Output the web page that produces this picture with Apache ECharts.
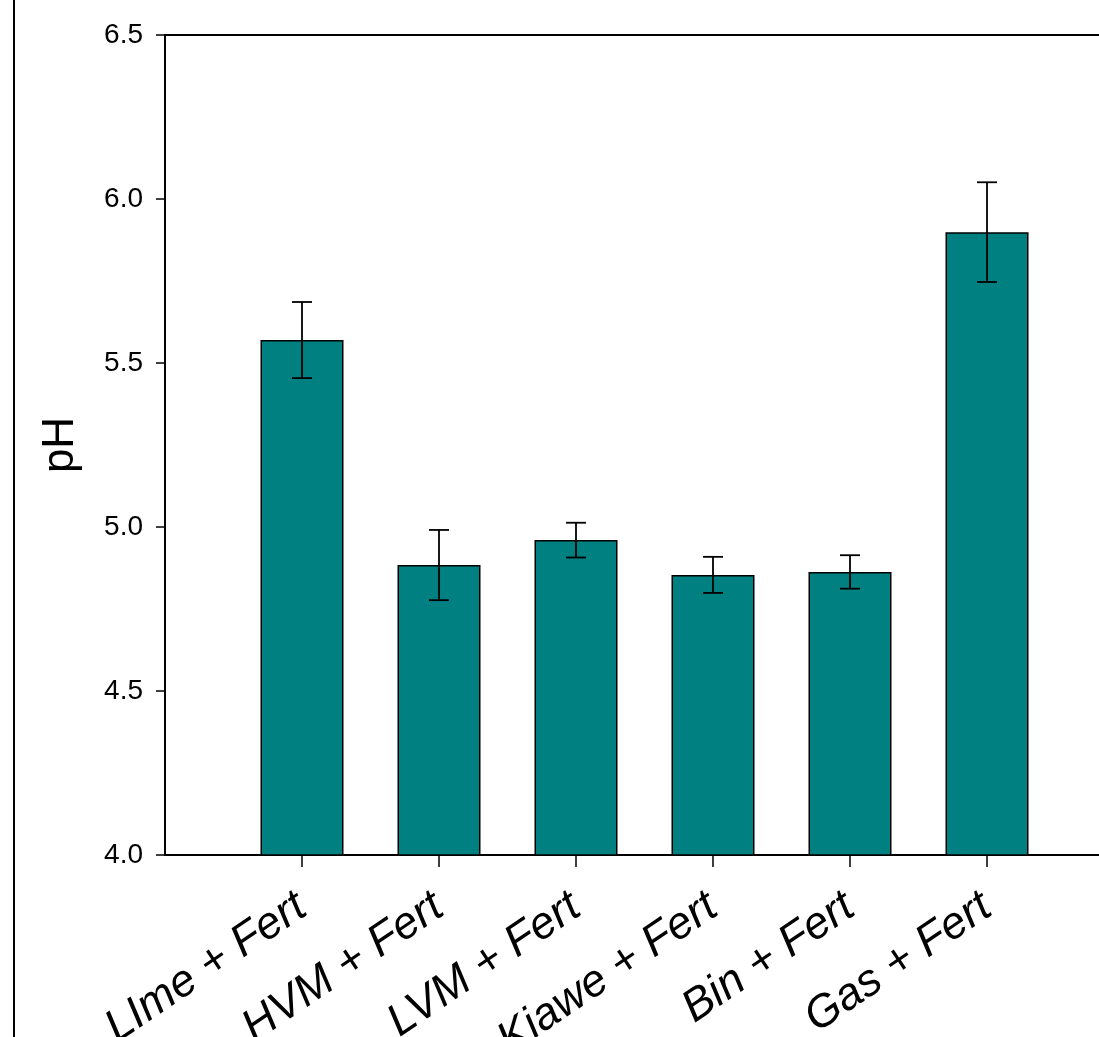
<!DOCTYPE html>
<html>
<head>
<meta charset="utf-8">
<style>
  html, body { margin: 0; padding: 0; background: #fff; overflow: hidden; }
  /* the frame runs a little past the right edge of the window */
  #chart { width: 1124px; height: 1037px; }
</style>
<script src="https://cdn.jsdelivr.net/npm/echarts@6/dist/echarts.min.js"></script>
</head>
<body>
<div id="chart"></div>
<script>
// Soil pH by treatment, mean with standard error
const categories = ['LIme + Fert', 'HVM + Fert', 'LVM + Fert', 'Kiawe + Fert', 'Bin + Fert', 'Gas + Fert'];
const phMean = [5.57, 4.884, 4.96, 4.854, 4.863, 5.899];
const phErr = [0.116, 0.107, 0.053, 0.055, 0.051, 0.152];
const yTicks = [4.0, 4.5, 5.0, 5.5, 6.0, 6.5];

const FONT = "'Liberation Sans', Arial, Helvetica, sans-serif";

// Axis slots: one empty slot at each end so the bars sit one step in from the frame
const axisSlots = [''].concat(categories, ['']);
const isRealSlot = (idx) => idx > 0 && idx <= categories.length;

const barData = phMean.map((v, i) => [i + 1, v]);
const errData = phMean.map((v, i) => [i + 1, v - phErr[i], v + phErr[i]]);

const chart = echarts.init(document.getElementById('chart'));

chart.setOption({
  animation: false,
  backgroundColor: '#ffffff',
  grid: {
    left: 165, right: 0, top: 35, bottom: 182,
    outerBoundsMode: 'none',
    show: true, borderColor: '#000', borderWidth: 2, backgroundColor: 'transparent'
  },
  graphic: [{
    type: 'line',
    shape: { x1: 14, y1: 0, x2: 14, y2: 1037 },
    style: { stroke: '#000', lineWidth: 2 }
  }],
  xAxis: {
    type: 'category',
    data: axisSlots,
    boundaryGap: false,
    axisLine: { show: true, lineStyle: { color: '#000', width: 2 } },
    axisTick: {
      show: true, inside: false, length: 12,
      interval: (idx) => isRealSlot(idx),
      lineStyle: { color: '#000', width: 1.5 }
    },
    axisLabel: {
      interval: (idx) => isRealSlot(idx),
      rotate: 34,
      margin: 48,
      color: '#000',
      fontFamily: FONT,
      fontStyle: 'italic',
      fontSize: 45
    },
    splitLine: { show: false }
  },
  yAxis: {
    type: 'value',
    min: yTicks[0],
    max: yTicks[yTicks.length - 1],
    interval: 0.5,
    name: 'pH',
    nameLocation: 'middle',
    nameGap: 82,
    nameTextStyle: { color: '#000', fontFamily: FONT, fontSize: 44 },
    axisLine: { show: true, lineStyle: { color: '#000', width: 2 } },
    axisTick: { show: true, inside: false, length: 9, lineStyle: { color: '#000', width: 1.5 } },
    axisLabel: {
      margin: 22,
      color: '#000',
      fontFamily: FONT,
      fontSize: 28,
      formatter: (v) => v.toFixed(1)
    },
    splitLine: { show: false }
  },
  series: [
    {
      type: 'bar',
      data: barData,
      barWidth: 83,
      itemStyle: { color: '#008080', borderColor: '#000', borderWidth: 1.5 },
      z: 2
    },
    {
      type: 'custom',
      data: errData,
      z: 3,
      renderItem: function (params, api) {
        const x = api.value(0);
        const lo = api.coord([x, api.value(1)]);
        const hi = api.coord([x, api.value(2)]);
        const half = 10;
        const style = { stroke: '#000', lineWidth: 1.8 };
        return {
          type: 'group',
          children: [
            { type: 'line', shape: { x1: lo[0], y1: lo[1], x2: hi[0], y2: hi[1] }, style: style },
            { type: 'line', shape: { x1: hi[0] - half, y1: hi[1], x2: hi[0] + half, y2: hi[1] }, style: style },
            { type: 'line', shape: { x1: lo[0] - half, y1: lo[1], x2: lo[0] + half, y2: lo[1] }, style: style }
          ]
        };
      }
    }
  ]
});
</script>
</body>
</html>
